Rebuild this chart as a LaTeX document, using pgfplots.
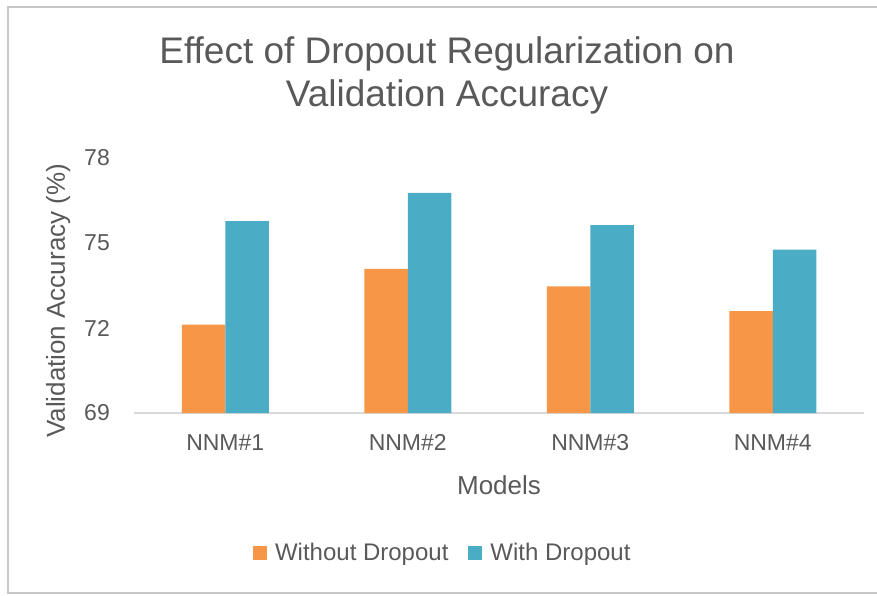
\documentclass[border=0pt]{standalone}
\usepackage{fontspec}
\setmainfont{Liberation Sans}
\usepackage{pgfplots}
\pgfplotsset{compat=1.18}
\definecolor{txt}{HTML}{595959}
\definecolor{orng}{HTML}{F79646}
\definecolor{tealbar}{HTML}{4BACC6}
\definecolor{framegray}{HTML}{C8C8C8}
\definecolor{base}{HTML}{D9D9D9}
\begin{document}
\begin{tikzpicture}
\useasboundingbox (0,0) rectangle (877pt,595pt);
% outer chart frame (right edge is cut off in the reference)
\draw[framegray,line width=1.5pt] (877pt,588pt) -- (8pt,588pt) -- (8pt,2pt) -- (877pt,2pt);
\node[txt,align=center,font=\fontsize{37}{43}\selectfont] at (447pt,520pt)
  {Effect of Dropout Regularization on\\Validation Accuracy};
\begin{axis}[
  at={(134pt,182pt)}, anchor=south west,
  scale only axis, width=730pt, height=255pt,
  ybar=0pt, bar width=43.5pt,
  xmin=-0.5, xmax=3.5, ymin=69, ymax=78,
  xtick={0,1,2,3}, xticklabels={NNM\#1,NNM\#2,NNM\#3,NNM\#4},
  ytick={69,72,75,78},
  axis x line*=bottom, axis y line*=left,
  x axis line style={base,line width=1.5pt,-},
  y axis line style={draw=none},
  major tick length=0pt,
  /pgf/number format/assume math mode=true,
  tick label style={txt,font=\fontsize{23}{27}\selectfont,inner sep=0pt},
  yticklabel style={xshift=-24pt},
  xticklabel style={yshift=-21pt},
  xlabel={Models}, ylabel={Validation Accuracy (\%)},
  label style={txt,font=\fontsize{26}{30}\selectfont},
  xlabel style={at={(axis description cs:0.5,-0.282)},anchor=center},
  ylabel style={at={(axis description cs:-0.104,0.44)},anchor=center,rotate=0},
  legend style={draw=none,fill=none,at={(rel axis cs:0.423,-0.549)},anchor=center,
    legend columns=2,font=\fontsize{24}{28}\selectfont,text=txt,
    /tikz/every odd column/.append style={column sep=6pt},
    /tikz/every even column/.append style={column sep=18pt}},
  legend image code/.code={\fill[#1] (0pt,-7pt) rectangle (14pt,7pt);},
]
\addplot[fill=orng,draw=none] coordinates {(0,72.12) (1,74.09) (2,73.47) (3,72.60)};
\addlegendentry{Without Dropout}
\addplot[fill=tealbar,draw=none] coordinates {(0,75.77) (1,76.77) (2,75.63) (3,74.77)};
\addlegendentry{With Dropout}
\end{axis}
\end{tikzpicture}
\end{document}
